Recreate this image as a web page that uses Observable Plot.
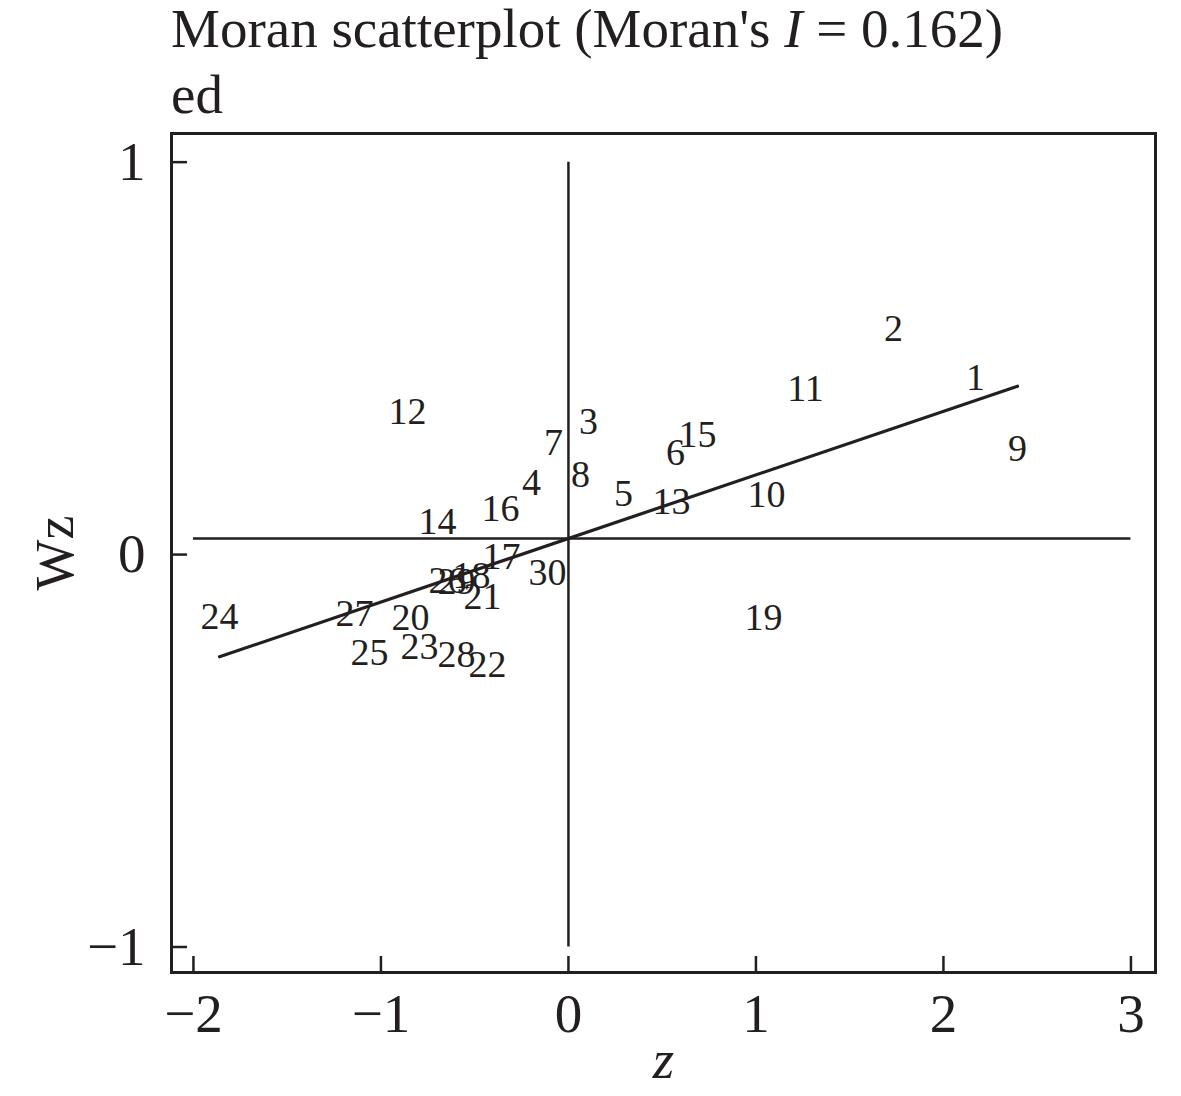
<!DOCTYPE html>
<html>
<head>
<meta charset="utf-8">
<script src="https://cdn.jsdelivr.net/npm/d3@7"></script>
<script src="https://cdn.jsdelivr.net/npm/@observablehq/plot@0.6"></script>
<style>
  body { margin: 0; background: #fff; }
  #title { height: 128px; padding-left: 171px; font-family: "Liberation Serif", "Times New Roman", serif; font-size: 55px; line-height: 66px; color: #231f20; }
  #title .in { position: relative; top: -4px; white-space: nowrap; }
</style>
</head>
<body>
<div id="title"><div class="in">Moran scatterplot (Moran's <i>I</i> = 0.162)<br>ed</div></div>
<div id="chart"></div>
<script>
// Observation ids (labels), standardized values z and spatial lag Wz
const ids = [1, 2, 3, 4, 5, 6, 7, 8, 9, 10, 11, 12, 13, 14, 15, 16, 17, 18, 19, 20, 21, 22, 23, 24, 25, 26, 27, 28, 29, 30];
const z  = [2.171, 1.733, 0.107, -0.197, 0.293, 0.571, -0.080, 0.064, 2.395, 1.056,
            1.264, -0.859, 0.549, -0.699, 0.688, -0.363, -0.357, -0.517, 1.040, -0.843,
            -0.459, -0.432, -0.795, -1.861, -1.061, -0.645, -1.141, -0.597, -0.597, -0.112];
const wz = [0.451, 0.576, 0.339, 0.183, 0.155, 0.260, 0.285, 0.204, 0.270, 0.153,
            0.423, 0.364, 0.135, 0.084, 0.306, 0.117, -0.005, -0.054, -0.161, -0.160,
            -0.107, -0.280, -0.234, -0.158, -0.250, -0.066, -0.150, -0.255, -0.069, -0.046];

const moranI = 0.162;      // slope of the fitted line
const wzMean = 0.041;      // horizontal reference line (mean of Wz)
const zMean = 0;           // vertical reference line
const hSpan = [-2, 3];     // extent of the horizontal reference line
const vSpan = [-1, 1];     // extent of the vertical reference line

const xTicks = [-2, -1, 0, 1, 2, 3];
const yTicks = [-1, 0, 1];

const ink = "#231f20";
const font = '"Liberation Serif", "Times New Roman", serif';
const fmt = d => d < 0 ? "\u2212" + Math.abs(d) : String(d);

const rows = ids.map((id, i) => ({id, z: z[i], wz: wz[i]}));
const fit = d3.extent(z).map(v => ({z: v, wz: wzMean + moranI * (v - zMean)}));

const chart = Plot.plot({
  width: 1181,
  height: 968,
  marginTop: 5,
  marginBottom: 124,
  marginLeft: 171,
  marginRight: 26,
  style: {fontFamily: font, color: ink, background: "#fff", overflow: "visible"},
  x: {domain: [-2.117, 3.131], label: null},
  y: {domain: [-1.065, 1.073], label: null},
  marks: [
    Plot.ruleX([zMean], {y1: vSpan[0], y2: vSpan[1], stroke: ink, strokeWidth: 2.5}),
    Plot.ruleY([wzMean], {x1: hSpan[0], x2: hSpan[1], stroke: ink, strokeWidth: 2.5}),
    Plot.line(fit, {x: "z", y: "wz", stroke: ink, strokeWidth: 3.2}),
    Plot.text(rows, {x: "z", y: "wz", text: d => String(d.id), fontSize: 38, fill: ink, fontFamily: font}),
    Plot.axisX(xTicks, {tickSize: -16, tickFormat: () => "", stroke: ink, strokeWidth: 2.5, label: null}),
    Plot.axisX(xTicks, {tickSize: 0, tickPadding: 20, fontSize: 55, tickFormat: fmt, fill: ink, label: null}),
    Plot.axisY(yTicks, {tickSize: -16, tickFormat: () => "", stroke: ink, strokeWidth: 2.5, label: null}),
    Plot.axisY(yTicks, {tickSize: 0, tickPadding: 26, fontSize: 55, tickFormat: fmt, fill: ink, label: null}),
    Plot.frame({stroke: ink, strokeWidth: 3}),
    Plot.text(["Wz"], {text: d => d, frameAnchor: "left", textAnchor: "middle", lineAnchor: "middle", dx: -116, rotate: -90, fontSize: 54, fill: ink}),
    Plot.text(["z"], {text: d => d, frameAnchor: "bottom", textAnchor: "middle", lineAnchor: "middle", dy: 88, fontSize: 55, fontStyle: "italic", fill: ink})
  ]
});
document.getElementById("chart").appendChild(chart);
</script>
</body>
</html>
